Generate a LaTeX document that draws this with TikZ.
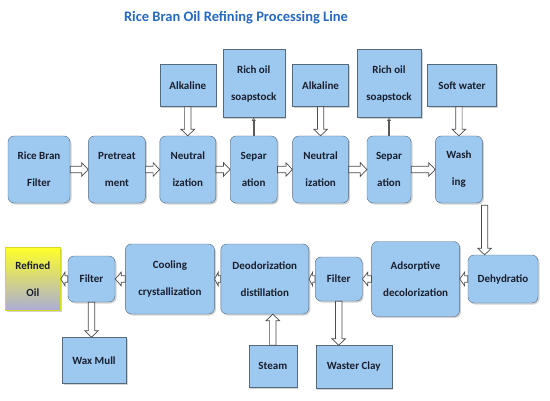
\documentclass[tikz,border=0pt]{standalone}
\usepackage{fontspec}
\setmainfont{Carlito}
\usepackage{xcolor}
\usepackage{tikz}
\usetikzlibrary{arrows.meta,positioning,calc,shadows}
\definecolor{boxblue}{RGB}{157,200,240}
\definecolor{boxedge}{RGB}{85,105,125}
\definecolor{textdark}{RGB}{25,30,45}
\definecolor{titleblue}{RGB}{40,105,190}
\definecolor{oilyellow}{RGB}{255,255,40}
\definecolor{oilgrey}{RGB}{170,172,215}
% hollow block arrow from #1 to #2
\newcommand{\flow}[2]{%
  \draw[flowarrow] let \p1=(#1), \p2=(#2), \n1={veclen(\x2-\x1,\y2-\y1)},
    \n2={(\x2-\x1)/\n1}, \n3={(\y2-\y1)/\n1}, \n4={min(6.5,0.6*\n1)} in
    ({\x1-3.2*\n3},{\y1+3.2*\n2})
    -- ({\x1+(\n1-\n4)*\n2-3.2*\n3},{\y1+(\n1-\n4)*\n3+3.2*\n2})
    -- ({\x1+(\n1-\n4)*\n2-6.8*\n3},{\y1+(\n1-\n4)*\n3+6.8*\n2})
    -- (\p2)
    -- ({\x1+(\n1-\n4)*\n2+6.8*\n3},{\y1+(\n1-\n4)*\n3-6.8*\n2})
    -- ({\x1+(\n1-\n4)*\n2+3.2*\n3},{\y1+(\n1-\n4)*\n3-3.2*\n2})
    -- ({\x1+3.2*\n3},{\y1-3.2*\n2}) -- cycle;}

\begin{document}
\begin{tikzpicture}[x=1pt,y=1pt,node distance=14pt,
  proc/.style={draw=boxedge,fill=boxblue,rounded corners=6pt,align=center,text=textdark,
    font={\fontsize{11}{27}\selectfont\bfseries},inner sep=0pt,minimum height=67pt,
    drop shadow={shadow xshift=1.5pt,shadow yshift=-1.5pt,opacity=0.35}},
  feed/.style={proc,sharp corners},
  oil/.style={feed,draw=oilyellow!85!black,line width=1pt,top color=oilyellow,bottom color=oilgrey},
  flowarrow/.style={draw=black!70,fill=white,line width=0.7pt},
  soapline/.style={draw=black!65,line width=1.6pt,-{Triangle[open,length=3pt,width=4pt,line width=0.6pt]}}]
  \useasboundingbox (0,0) rectangle (550,400);
  \node[font={\fontsize{14.5}{17}\selectfont\bfseries},text=titleblue] (title) at (236,382)
    {Rice Bran Oil Refining Processing Line};

  % top row
  \node[proc,minimum width=62pt] (rbf) at (39,230.5) {Rice Bran\\Filter};
  \node[proc,minimum width=57pt,right=18pt of rbf] (pre) {Pretreat\\ment};
  \node[proc,minimum width=56pt,right=14pt of pre] (neua) {Neutral\\ization};
  \node[proc,minimum width=47pt,right=14pt of neua] (sepa) {Separ\\ation};
  \node[proc,minimum width=56pt,right=15pt of sepa] (neub) {Neutral\\ization};
  \node[proc,minimum width=44pt,right=18pt of neub] (sepb) {Separ\\ation};
  \node[proc,minimum width=47pt,right=24pt of sepb] (wash) {Wash\\ing};

  % inputs and by-products above
  \node[feed,minimum width=56pt,minimum height=42pt,above=29pt of neua] (alka) {Alkaline};
  \node[feed,minimum width=62pt,minimum height=68pt,above=18pt of sepa] (soapa) {Rich oil\\soapstock};
  \node[feed,minimum width=56pt,minimum height=42pt,above=29pt of neub] (alkb) {Alkaline};
  \node[feed,minimum width=64pt,minimum height=68pt,above=18pt of sepb] (soapb) {Rich oil\\soapstock};
  \node[feed,minimum width=69pt,minimum height=42pt,above=29pt of wash,xshift=3pt] (soft) {Soft water};

  % bottom row, right to left
  \node[proc,minimum width=70pt,minimum height=48pt] (dehy) at (503,121) {Dehydratio};
  \node[proc,minimum width=88pt,minimum height=75pt,left=8pt of dehy] (adso) {Adsorptive\\decolorization};
  \node[proc,minimum width=47pt,minimum height=44pt,left=9pt of adso] (filtb) {Filter};
  \node[proc,minimum width=88pt,minimum height=70pt,left=6pt of filtb] (deo) {Deodorization\\distillation};
  \node[proc,minimum width=89pt,minimum height=70pt,left=6pt of deo] (cool) {Cooling\\crystallization};
  \node[proc,minimum width=47pt,minimum height=46pt,left=10pt of cool] (filta) {Filter};
  \node[oil,minimum width=55pt,minimum height=63pt,left=7pt of filta] (refoil) {Refined\\Oil};

  \node[feed,minimum width=64pt,minimum height=46pt,below=35pt of filta,xshift=2.5pt] (wax) {Wax Mull};
  \node[feed,minimum width=48pt,minimum height=42pt,below=31pt of deo,xshift=8pt] (steam) {Steam};
  \node[feed,minimum width=76pt,minimum height=43pt,below=44pt of filtb,xshift=15pt] (clay) {Waster Clay};

  % flow
  \flow{rbf.east}{pre.west}
  \flow{pre.east}{neua.west}
  \flow{neua.east}{sepa.west}
  \flow{sepa.east}{neub.west}
  \flow{neub.east}{sepb.west}
  \flow{sepb.east}{wash.west}
  \flow{alka.south}{neua.north}
  \flow{alkb.south}{neub.north}
  \flow{wash.north |- soft.south}{wash.north}
  \draw[soapline] (sepa.north) -- (soapa.south);
  \draw[soapline] (sepb.north) -- (sepb.north |- soapb.south);
  \coordinate (washout) at ($(wash.south east)+(2,-2)$);
  \flow{washout}{washout |- dehy.north}
  \flow{dehy.west}{adso.east}
  \flow{adso.west}{filtb.east}
  \flow{filtb.west}{deo.east}
  \flow{deo.west}{cool.east}
  \flow{cool.west}{filta.east}
  \flow{filta.west}{refoil.east}
  \flow{filta.south}{filta.south |- wax.north}
  \flow{steam.north}{steam.north |- deo.south}
  \flow{filtb.south}{filtb.south |- clay.north}
\end{tikzpicture}
\end{document}
